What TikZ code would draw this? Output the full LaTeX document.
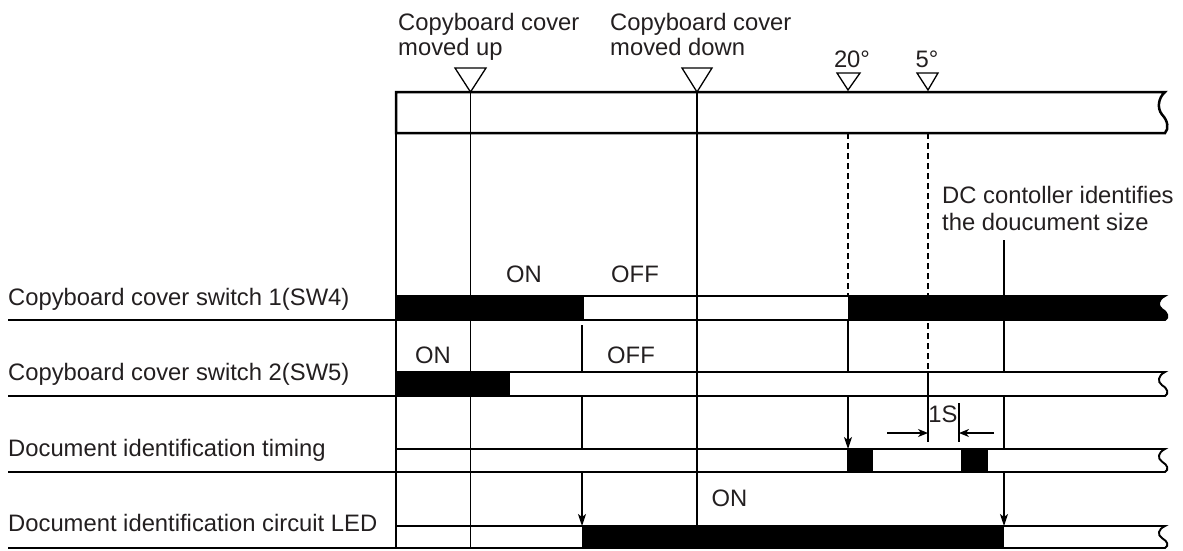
\documentclass[tikz,border=0pt]{standalone}
\usepackage{fontspec}
\setmainfont{Liberation Sans}
\usetikzlibrary{arrows.meta}
\definecolor{ink}{RGB}{35,31,32}
\begin{document}
\begin{tikzpicture}[x=1pt,y=-1pt,
  txt/.style={inner sep=0pt, text=ink, font=\fontsize{23.8}{28}\selectfont},
  barbox/.style={line width=1.9pt},
  topbox/.style={line width=2.5pt},
  thinline/.style={line width=1.3pt},
  dashline/.style={line width=1.2pt, dash pattern=on 6pt off 4pt},
  arr/.style={thinline,-{Stealth[length=12pt,width=8pt,inset=3pt]}},
  darr/.style={thinline,-{Stealth[length=10pt,width=8pt,inset=3pt]}},
  squig/.style 2 args={insert path={.. controls (1158,{#1+0.15*(#2-#1)}) and (1157,{#1+0.4*(#2-#1)}) .. (1162,{#1+0.55*(#2-#1)}) .. controls (1168,{#1+0.7*(#2-#1)}) and (1169,{#1+0.9*(#2-#1)}) .. (1165,#2)}},
  tri/.style={thinline, fill=white, line join=miter}
]
\useasboundingbox (0,0) rectangle (1183,550);

% left labels and their rules
\node[txt, anchor=base west] (l1) at (8,305) {Copyboard cover switch 1(SW4)};
\node[txt, anchor=base west] (l2) at (8,380) {Copyboard cover switch 2(SW5)};
\node[txt, anchor=base west] (l3) at (8,456) {Document identification timing};
\node[txt, anchor=base west] (l4) at (8,531) {Document identification circuit LED};
\draw[thinline] (8,320) -- (396,320);
\draw[thinline] (8,396) -- (396,396);
\draw[thinline] (8,472) -- (396,472);
\draw[thinline] (8,548) -- (396,548);

% top labels
\node[txt, anchor=base west] (u1) at (398,30) {Copyboard cover};
\node[txt, anchor=base west] (u2) at (398,55) {moved up};
\node[txt, anchor=base west] (d1) at (610,30) {Copyboard cover};
\node[txt, anchor=base west] (d2) at (610,55) {moved down};
\node[txt, anchor=base] (a20) at (852,67) {20°};
\node[txt, anchor=base] (a5) at (927,67) {5°};
\node[txt, anchor=base west] (dc1) at (942,203) {DC contoller identifies};
\node[txt, anchor=base west] (dc2) at (942,230) {the doucument size};

% bar backgrounds
\fill[white] (396,92) -- (1165,92) [squig={92}{133}] -- (396,133) -- cycle;
\fill[white] (396,296) -- (1165,296) [squig={296}{320}] -- (396,320) -- cycle;
\fill[white] (396,372) -- (1165,372) [squig={372}{396}] -- (396,396) -- cycle;
\fill[white] (396,449) -- (1165,449) [squig={449}{472}] -- (396,472) -- cycle;
\fill[white] (396,526) -- (1165,526) [squig={526}{548}] -- (396,548) -- cycle;

% black (ON) segments
\fill[black] (396,296) rectangle (584,320);
\fill[black] (848,296) -- (1165,296) [squig={296}{320}] -- (848,320) -- cycle;
\fill[black] (396,372) rectangle (510,396);
\fill[black] (847,449) rectangle (873,472);
\fill[black] (960.5,449) rectangle (988,472);
\fill[black] (582,526) rectangle (1004,548);

% bar outlines
\draw[topbox] (396,92) -- (1165,92) [squig={92}{133}] -- (396,133) -- cycle;
\draw[barbox] (396,296) -- (1165,296) [squig={296}{320}] -- (396,320) -- cycle;
\draw[barbox] (396,372) -- (1165,372) [squig={372}{396}] -- (396,396) -- cycle;
\draw[barbox] (396,449) -- (1165,449) [squig={449}{472}] -- (396,472) -- cycle;
\draw[barbox] (396,526) -- (1165,526) [squig={526}{548}] -- (396,548) -- cycle;
\draw[barbox] (928,372) -- (928,396);

% vertical timing lines
\draw[thinline] (396,92) -- (396,548);
\draw[thinline] (470.5,92) -- (470.5,548);
\draw[thinline] (697,92) -- (697,526);
\draw[dashline] (848,133) -- (848,296);
\draw[dashline] (928,133) -- (928,372);

\coordinate (sw4a) at (582,325);
\coordinate (tma) at (582,449);
\draw[thinline] (sw4a) -- (582,372);
\draw[thinline] (582,396) -- (tma);
\draw[arr] (582,472) -- (582,526);

\draw[thinline] (848,320) -- (848,372);
\draw[arr] (848,396) -- (848,449);

\draw[thinline] (1004,240) -- (1004,372);
\draw[thinline] (1004,396) -- (1004,449);
\draw[arr] (1004,472) -- (1004,526);

% 1S dimension
\draw[thinline] (928,396) -- (928,442);
\draw[thinline] (959,403) -- (959,442);
\draw[darr] (887,433) -- (928,433);
\draw[darr] (994,433) -- (959,433);
\node[txt, anchor=base] (one) at (943,422) {1S};

% ON / OFF labels
\node[txt, anchor=base] (on1) at (524,282) {ON};
\node[txt, anchor=base] (off1) at (635,282) {OFF};
\node[txt, anchor=base] (on2) at (433,363) {ON};
\node[txt, anchor=base] (off2) at (631,363) {OFF};
\node[txt, anchor=base] (on3) at (729.5,506) {ON};

% event triangles
\draw[tri] (455,68) -- (486,68) -- (470.5,92) -- cycle;
\draw[tri] (682,68) -- (712,68) -- (697,92) -- cycle;
\draw[tri] (837,73) -- (860,73) -- (848,90) -- cycle;
\draw[tri] (917,73) -- (938,73) -- (928,90) -- cycle;
\end{tikzpicture}
\end{document}
